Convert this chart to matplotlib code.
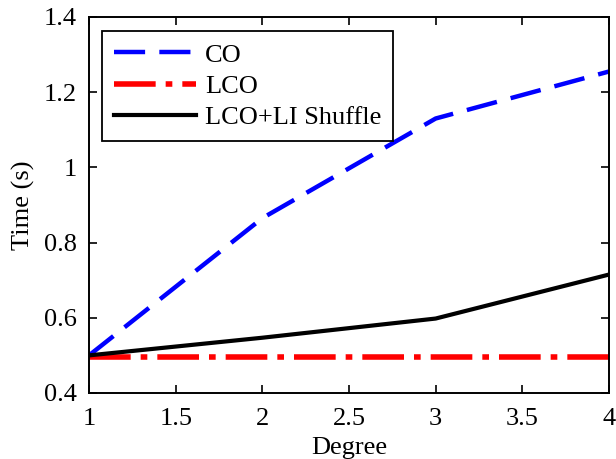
import matplotlib.pyplot as plt

# timing results per polynomial degree
degree = [1, 2, 3, 4]
time_co = [0.50, 0.865, 1.13, 1.255]
time_lco = [0.497, 0.497, 0.497, 0.497]
time_lco_li = [0.50, 0.547, 0.598, 0.715]

xticks = [1, 1.5, 2, 2.5, 3, 3.5, 4]
yticks = [0.4, 0.6, 0.8, 1.0, 1.2, 1.4]
ytick_labels = ["0.4", "0.6", "0.8", "1", "1.2", "1.4"]

plt.rcParams['font.family'] = ['Liberation Serif', 'DejaVu Serif']
plt.rcParams['font.size'] = 19

fig = plt.figure(figsize=(6.16, 4.59), dpi=100)
ax = fig.add_axes([0.1445, 0.1438, 0.8441, 0.8192])

ax.plot(degree, time_co, color='#0000ff', lw=3.2, dashes=(7, 3.2), label='CO')
ax.plot(degree, time_lco, color='#ff0000', lw=4.0, dashes=(7.5, 1.8, 1.2, 1.8), label='LCO')
ax.plot(degree, time_lco_li, color='black', lw=3.0, label='LCO+LI Shuffle')

ax.set_xlim(1, 4)
ax.set_ylim(0.4, 1.4)
ax.set_xticks(xticks)
ax.set_xticklabels([f"{t:g}" for t in xticks])
ax.set_yticks(yticks)
ax.set_yticklabels(ytick_labels)
ax.tick_params(direction='in', top=True, right=True, length=6, width=1.2)
ax.tick_params(axis='y', pad=9)
ax.tick_params(axis='x', pad=11)
for s in ax.spines.values():
    s.set_linewidth(1.4)

ax.set_xlabel('Degree', va='top')
ax.xaxis.set_label_coords(0.5, -0.118)
ax.set_ylabel('Time (s)', labelpad=6)

leg = ax.legend(loc='upper left', bbox_to_anchor=(0.025, 0.962), fancybox=False,
                edgecolor='black', framealpha=1, handlelength=3.1,
                handletextpad=0.35, borderpad=0.45, labelspacing=0.3,
                borderaxespad=0, fontsize=19)
leg.get_frame().set_linewidth(1.3)

fig.savefig('out.png', dpi=100)
